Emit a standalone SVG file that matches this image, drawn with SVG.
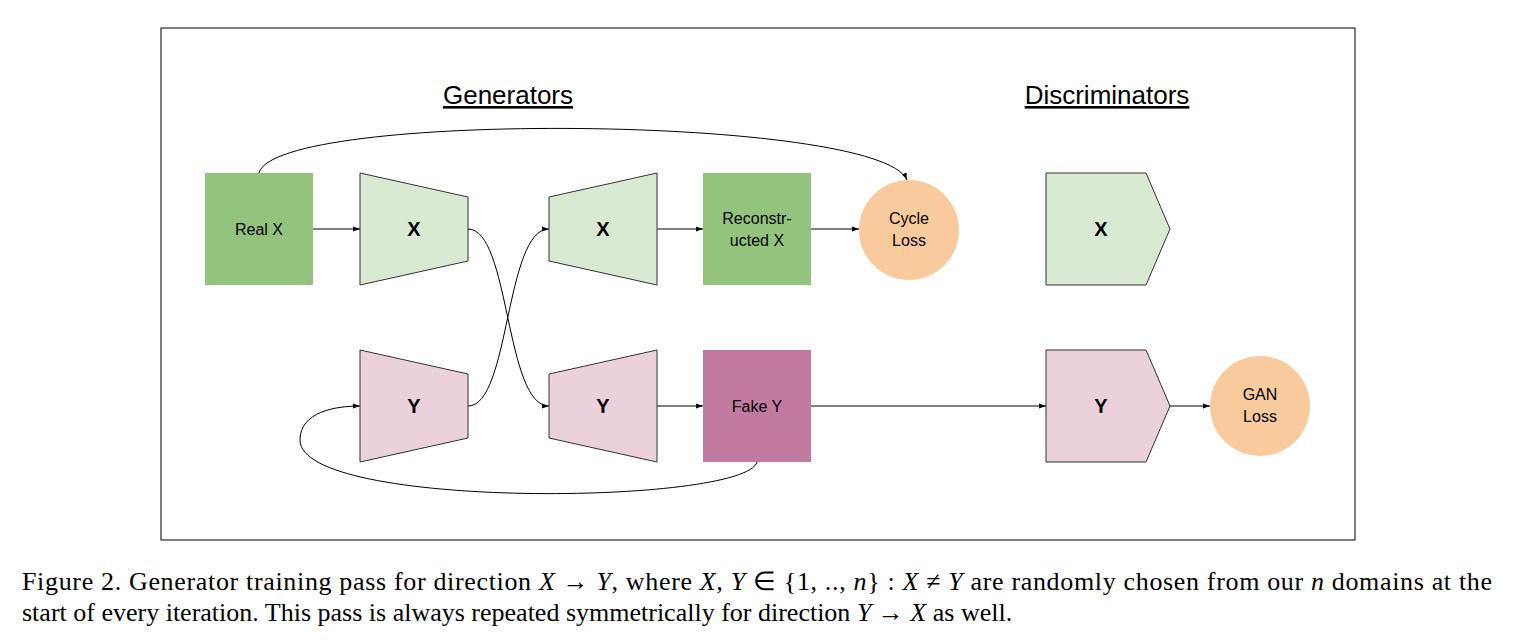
<svg xmlns="http://www.w3.org/2000/svg" width="1530" height="642" viewBox="0 0 1530 642">
<style>
.t{font-family:"Liberation Sans",Arial,sans-serif;font-size:16px;fill:#000;text-anchor:middle}
.b{font-family:"Liberation Sans",Arial,sans-serif;font-size:20px;font-weight:bold;fill:#000;text-anchor:middle}
.h{font-family:"Liberation Sans",Arial,sans-serif;font-size:26px;fill:#000;text-anchor:middle;text-decoration:underline}
.c{fill:none;stroke:#000;stroke-width:1;marker-end:url(#a)}
.cap{font-family:"Liberation Serif","Times New Roman",serif;font-size:26px;fill:#000}
.n{stroke:#333;stroke-width:1}
.gx{fill:#d9ead3}.gy{fill:#ead1dc}
</style>
<defs><marker id="a" viewBox="0 0 10 10" refX="10" refY="5" markerWidth="7" markerHeight="7" orient="auto"><path d="M0,1.5 L10,5 L0,8.5 z" fill="#000"/></marker></defs>
<rect width="1530" height="642" fill="#fff"/>
<rect x="161" y="28" width="1194" height="512" fill="none" stroke="#000" stroke-width="1"/>
<text class="h" x="508" y="104">Generators</text>
<text class="h" x="1107" y="104">Discriminators</text>
<g id="connectors">
<path class="c" d="M313,229 L360,229"/>
<path class="c" d="M468,229 C510,229 505,406 549,406"/>
<path class="c" d="M468,406 C510,406 505,229 549,229"/>
<path class="c" d="M657,229 L703,229"/>
<path class="c" d="M811,229 L859,229"/>
<path class="c" d="M657,406 L703,406"/>
<path class="c" d="M811,406 L1046,406"/>
<path class="c" d="M1170,406 L1210,406"/>
<path class="c" d="M259,173 C275,110 880,115 907,180"/>
<path class="c" d="M757,462 C745,505 300,510 300,440 C300,412 335,406 360,406"/>
</g>
<g id="realx"><rect x="205" y="173" width="108" height="112" fill="#93c47d"/><text class="t" x="259" y="235">Real X</text></g>
<g id="genx1"><polygon class="n gx" points="360,173 468,197 468,261 360,285"/><text class="b" x="414" y="236">X</text></g>
<g id="genx2"><polygon class="n gx" points="549,197 657,173 657,285 549,261"/><text class="b" x="603" y="236">X</text></g>
<g id="recx"><rect x="703" y="173" width="108" height="112" fill="#93c47d"/><text class="t" x="757" y="224">Reconstr-</text><text class="t" x="757" y="246">ucted X</text></g>
<g id="cycle"><circle cx="909" cy="230" r="50" fill="#f9cb9c"/><text class="t" x="909" y="224">Cycle</text><text class="t" x="909" y="246">Loss</text></g>
<g id="discx"><polygon class="n gx" points="1046,173 1146,173 1170,229 1146,285 1046,285"/><text class="b" x="1101" y="236">X</text></g>
<g id="geny1"><polygon class="n gy" points="360,350 468,374 468,438 360,462"/><text class="b" x="414" y="413">Y</text></g>
<g id="geny2"><polygon class="n gy" points="549,374 657,350 657,462 549,438"/><text class="b" x="603" y="413">Y</text></g>
<g id="fakey"><rect x="703" y="350" width="108" height="112" fill="#c27ba0"/><text class="t" x="757" y="412">Fake Y</text></g>
<g id="discy"><polygon class="n gy" points="1046,350 1146,350 1170,406 1146,462 1046,462"/><text class="b" x="1101" y="413">Y</text></g>
<g id="gan"><circle cx="1260" cy="406" r="50" fill="#f9cb9c"/><text class="t" x="1260" y="400">GAN</text><text class="t" x="1260" y="422">Loss</text></g>
<text class="cap" x="22" y="590" textLength="1470" lengthAdjust="spacing">Figure 2. Generator training pass for direction <tspan font-style="italic">X</tspan> → <tspan font-style="italic">Y</tspan>, where <tspan font-style="italic">X, Y</tspan> ∈ {1, .., <tspan font-style="italic">n</tspan>} : <tspan font-style="italic">X</tspan> ≠ <tspan font-style="italic">Y</tspan> are randomly chosen from our <tspan font-style="italic">n</tspan> domains at the</text>
<text class="cap" x="22" y="621">start of every iteration. This pass is always repeated symmetrically for direction <tspan font-style="italic">Y</tspan> → <tspan font-style="italic">X</tspan> as well.</text>
</svg>
